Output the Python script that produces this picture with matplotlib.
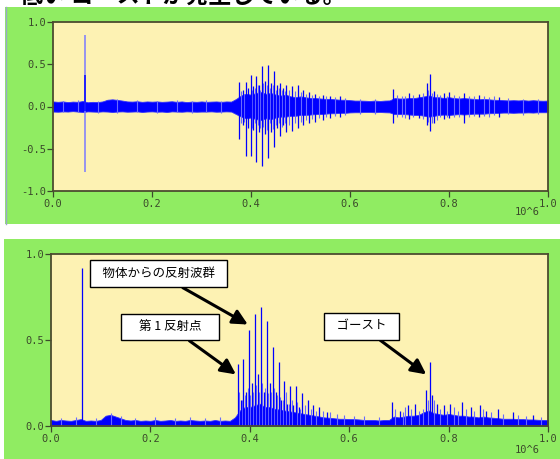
import numpy as np
import matplotlib
matplotlib.use("Agg")
import matplotlib.pyplot as plt
from matplotlib.patches import Rectangle

plt.rcParams['font.family'] = ['Noto Sans CJK JP', 'DejaVu Sans']

# ---------------- data ----------------
env_x = [i / 100 for i in range(101)]

top_upper = [0.06, 0.055, 0.06, 0.052, 0.058, 0.055, 0.065, 0.05, 0.055, 0.052, 0.06,
             0.08, 0.085, 0.078, 0.07, 0.06, 0.058, 0.062, 0.055, 0.06, 0.057,
             0.06, 0.055, 0.058, 0.062, 0.055, 0.06, 0.052, 0.058, 0.055, 0.06,
             0.055, 0.058, 0.06, 0.055, 0.06, 0.058, 0.09, 0.13, 0.15, 0.14,
             0.16, 0.17, 0.15, 0.16, 0.14, 0.13, 0.14, 0.12, 0.11, 0.12,
             0.11, 0.10, 0.10, 0.095, 0.09, 0.09, 0.085, 0.08, 0.08, 0.075,
             0.07, 0.07, 0.068, 0.065, 0.07, 0.065, 0.07, 0.072, 0.10, 0.095,
             0.095, 0.10, 0.10, 0.11, 0.12, 0.13, 0.11, 0.11, 0.10, 0.11,
             0.10, 0.095, 0.10, 0.095, 0.09, 0.085, 0.09, 0.085, 0.08, 0.078,
             0.075, 0.072, 0.075, 0.072, 0.075, 0.07, 0.075, 0.07, 0.068, 0.07]

top_lower = [-0.06, -0.062, -0.058, -0.06, -0.055, -0.06, -0.065, -0.058, -0.06, -0.062, -0.058,
             -0.06, -0.065, -0.06, -0.058, -0.062, -0.06, -0.058, -0.065, -0.06, -0.058,
             -0.062, -0.06, -0.065, -0.058, -0.06, -0.062, -0.058, -0.06, -0.062, -0.06,
             -0.06, -0.058, -0.062, -0.06, -0.058, -0.06, -0.09, -0.12, -0.14, -0.13,
             -0.15, -0.16, -0.14, -0.15, -0.13, -0.12, -0.12, -0.11, -0.11, -0.10,
             -0.10, -0.095, -0.09, -0.09, -0.085, -0.08, -0.08, -0.075, -0.075, -0.07,
             -0.068, -0.068, -0.065, -0.065, -0.068, -0.065, -0.068, -0.07, -0.09, -0.09,
             -0.09, -0.095, -0.10, -0.10, -0.11, -0.12, -0.11, -0.10, -0.095, -0.10,
             -0.095, -0.09, -0.095, -0.09, -0.085, -0.085, -0.085, -0.08, -0.078, -0.075,
             -0.072, -0.072, -0.075, -0.072, -0.072, -0.07, -0.072, -0.068, -0.068, -0.068]

bot_upper = [0.035, 0.03, 0.035, 0.032, 0.03, 0.035, 0.04, 0.03, 0.032, 0.03, 0.035,
             0.06, 0.065, 0.055, 0.045, 0.035, 0.032, 0.035, 0.03, 0.032, 0.03,
             0.035, 0.03, 0.032, 0.035, 0.03, 0.032, 0.03, 0.035, 0.032, 0.03,
             0.032, 0.03, 0.035, 0.03, 0.032, 0.03, 0.05, 0.09, 0.11, 0.11,
             0.12, 0.13, 0.11, 0.11, 0.10, 0.095, 0.09, 0.085, 0.08, 0.075,
             0.07, 0.065, 0.06, 0.055, 0.05, 0.048, 0.045, 0.042, 0.042, 0.04,
             0.04, 0.038, 0.035, 0.035, 0.035, 0.032, 0.035, 0.035, 0.055, 0.05,
             0.055, 0.06, 0.06, 0.065, 0.08, 0.09, 0.075, 0.07, 0.065, 0.07,
             0.065, 0.06, 0.06, 0.055, 0.055, 0.05, 0.055, 0.05, 0.048, 0.045,
             0.042, 0.042, 0.042, 0.04, 0.04, 0.038, 0.038, 0.036, 0.035, 0.035]

# top panel main spikes: position, positive peak, negative peak
top_spike_x = [0.064, 0.376, 0.383, 0.389, 0.394, 0.399, 0.405, 0.411, 0.416, 0.422, 0.428,
               0.435, 0.441, 0.447, 0.453, 0.459, 0.465, 0.471, 0.482, 0.494, 0.506,
               0.518, 0.530, 0.545, 0.560, 0.580, 0.687, 0.720, 0.740, 0.755, 0.762,
               0.770, 0.790, 0.800, 0.830, 0.860, 0.900]
top_spike_hi = [0.85, 0.29, 0.20, 0.29, 0.22, 0.37, 0.24, 0.36, 0.26, 0.48, 0.30,
                0.49, 0.28, 0.42, 0.25, 0.28, 0.22, 0.25, 0.24, 0.26, 0.20,
                0.17, 0.15, 0.14, 0.13, 0.12, 0.21, 0.16, 0.15, 0.28, 0.39,
                0.18, 0.16, 0.17, 0.16, 0.14, 0.11]
top_spike_lo = [-0.78, -0.39, -0.22, -0.58, -0.25, -0.58, -0.28, -0.66, -0.30, -0.70, -0.32,
                -0.61, -0.30, -0.48, -0.26, -0.35, -0.22, -0.30, -0.29, -0.25, -0.22,
                -0.20, -0.18, -0.16, -0.14, -0.12, -0.20, -0.15, -0.14, -0.22, -0.29,
                -0.20, -0.15, -0.14, -0.19, -0.13, -0.12]

# top panel small spikes (noise texture)
top_minor_x = [0.02, 0.05, 0.09, 0.13, 0.17, 0.21, 0.25, 0.28, 0.31, 0.34,
               0.379, 0.386, 0.402, 0.408, 0.414, 0.419, 0.425, 0.432, 0.438, 0.444,
               0.450, 0.456, 0.462, 0.468, 0.476, 0.488, 0.500, 0.512, 0.524, 0.537,
               0.552, 0.570, 0.590, 0.620, 0.650, 0.695, 0.705, 0.712, 0.728, 0.748,
               0.758, 0.766, 0.775, 0.782, 0.795, 0.810, 0.820, 0.840, 0.850, 0.870,
               0.880, 0.890, 0.920, 0.950, 0.980]
top_minor_hi = [0.07, 0.075, 0.07, 0.09, 0.075, 0.07, 0.075, 0.07, 0.075, 0.07,
                0.18, 0.15, 0.20, 0.22, 0.25, 0.20, 0.28, 0.26, 0.22, 0.25,
                0.20, 0.22, 0.20, 0.18, 0.20, 0.18, 0.17, 0.15, 0.14, 0.13,
                0.12, 0.11, 0.10, 0.09, 0.085, 0.14, 0.13, 0.12, 0.14, 0.16,
                0.20, 0.16, 0.15, 0.14, 0.13, 0.14, 0.13, 0.12, 0.13, 0.12,
                0.11, 0.12, 0.10, 0.09, 0.09]
top_minor_lo = [-0.07, -0.07, -0.075, -0.08, -0.07, -0.075, -0.07, -0.075, -0.07, -0.075,
                -0.20, -0.18, -0.25, -0.20, -0.22, -0.25, -0.24, -0.28, -0.20, -0.27,
                -0.22, -0.20, -0.24, -0.20, -0.22, -0.20, -0.18, -0.16, -0.15, -0.14,
                -0.12, -0.11, -0.10, -0.085, -0.09, -0.13, -0.12, -0.14, -0.13, -0.15,
                -0.18, -0.20, -0.16, -0.13, -0.12, -0.13, -0.12, -0.13, -0.11, -0.11,
                -0.12, -0.10, -0.09, -0.095, -0.085]

# bottom panel main spikes: position, peak amplitude
bot_spike_x = [0.062, 0.376, 0.382, 0.387, 0.393, 0.399, 0.404, 0.410, 0.416, 0.422, 0.428,
               0.434, 0.440, 0.446, 0.452, 0.458, 0.463, 0.469, 0.475, 0.481, 0.487,
               0.492, 0.498, 0.505, 0.518, 0.528, 0.540, 0.555, 0.687, 0.702, 0.719,
               0.732, 0.755, 0.763, 0.767, 0.776, 0.790, 0.803, 0.826, 0.845, 0.863,
               0.875, 0.900, 0.930, 0.970]
bot_spike_y = [0.92, 0.36, 0.15, 0.39, 0.20, 0.56, 0.25, 0.65, 0.30, 0.69, 0.20,
               0.61, 0.25, 0.46, 0.20, 0.37, 0.15, 0.26, 0.13, 0.23, 0.12,
               0.23, 0.11, 0.19, 0.15, 0.12, 0.11, 0.08, 0.14, 0.09, 0.12,
               0.13, 0.21, 0.37, 0.18, 0.13, 0.12, 0.13, 0.14, 0.11, 0.12,
               0.09, 0.10, 0.08, 0.065]

# bottom panel small spikes (noise texture)
bot_minor_x = [0.02, 0.05, 0.09, 0.12, 0.14, 0.17, 0.21, 0.25, 0.28, 0.31, 0.34,
               0.379, 0.385, 0.390, 0.396, 0.401, 0.407, 0.413, 0.419, 0.425, 0.431,
               0.437, 0.443, 0.449, 0.455, 0.461, 0.466, 0.472, 0.478, 0.484, 0.495,
               0.502, 0.511, 0.523, 0.534, 0.547, 0.562, 0.575, 0.590, 0.610, 0.630,
               0.660, 0.692, 0.708, 0.713, 0.725, 0.740, 0.748, 0.759, 0.771, 0.782,
               0.796, 0.810, 0.818, 0.835, 0.852, 0.870, 0.885, 0.910, 0.940, 0.955, 0.985]
bot_minor_y = [0.045, 0.05, 0.045, 0.075, 0.06, 0.045, 0.05, 0.045, 0.05, 0.045, 0.05,
               0.20, 0.15, 0.18, 0.22, 0.18, 0.20, 0.24, 0.20, 0.25, 0.22,
               0.19, 0.20, 0.22, 0.18, 0.17, 0.15, 0.20, 0.13, 0.15, 0.14,
               0.10, 0.12, 0.10, 0.09, 0.09, 0.08, 0.07, 0.065, 0.06, 0.06,
               0.05, 0.10, 0.08, 0.11, 0.10, 0.09, 0.10, 0.15, 0.15, 0.10,
               0.09, 0.11, 0.09, 0.10, 0.09, 0.10, 0.08, 0.07, 0.065, 0.06, 0.055]

x_ticks = [0.0, 0.2, 0.4, 0.6, 0.8, 1.0]
x_tick_labels = ["0.0", "0.2", "0.4", "0.6", "0.8", "1.0"]
top_y_ticks = [-1.0, -0.5, 0.0, 0.5, 1.0]
top_y_labels = ["-1.0", "-0.5", "0.0", "0.5", "1.0"]
bot_y_ticks = [0.0, 0.5, 1.0]
bot_y_labels = ["0.0", "0.5", "1.0"]

notes = ["物体からの反射波群", "第 1 反射点", "ゴースト"]
note_text_xy = [(0.216, 0.885), (0.240, 0.576), (0.625, 0.579)]
note_tip_xy = [(0.396, 0.59), (0.372, 0.30), (0.755, 0.30)]

# ---------------- figure ----------------
W, H = 560, 459
fig = plt.figure(figsize=(W / 100, H / 100), dpi=100)
fig.patch.set_facecolor('white')

GREEN = '#90ec62'
FACE = '#fdf2b3'
TICKC = '#3b4a2b'
BLUE = '#0000ff'
LIGHT = '#6a6aff'

def px_rect(x0, y0, x1, y1):
    return (x0 / W, 1 - y1 / H, (x1 - x0) / W, (y1 - y0) / H)

for (x0, y0, x1, y1) in [(5, 7, 560, 224), (4, 239, 560, 459)]:
    l, b, w, h = px_rect(x0, y0, x1, y1)
    fig.add_artist(Rectangle((l, b), w, h, transform=fig.transFigure,
                             facecolor=GREEN, edgecolor='none', zorder=-5))
fig.add_artist(plt.Line2D([5.5 / W, 5.5 / W], [1 - 224 / H, 1 - 7 / H],
                          transform=fig.transFigure, color='#9aa8c8', lw=1, zorder=-4))

fig.text(20 / W, 1 - 3 / H, "低い ゴーストが発生している。", fontsize=16.5,
         fontweight='bold', va='baseline', ha='left', color='black')

ax1 = fig.add_axes(px_rect(53, 22, 548, 191))
ax2 = fig.add_axes(px_rect(51, 254, 548, 426))

def style(ax, yt, yl, ylim):
    ax.set_facecolor(FACE)
    ax.set_xlim(0, 1.0)
    ax.set_ylim(*ylim)
    ax.set_xticks(x_ticks)
    ax.set_xticklabels(x_tick_labels)
    ax.set_yticks(yt)
    ax.set_yticklabels(yl)
    for s in ax.spines.values():
        s.set_color('#4c4c30')
        s.set_linewidth(1.3)
    ax.tick_params(axis='both', colors=TICKC, labelcolor=TICKC, labelsize=7.5,
                   direction='out', length=4, width=0.9)
    ax.tick_params(axis='x', pad=2)
    ax.tick_params(axis='y', pad=1)
    for lab in ax.get_xticklabels() + ax.get_yticklabels():
        lab.set_family('DejaVu Sans Mono')

style(ax1, top_y_ticks, top_y_labels, (-1.0, 1.0))
style(ax2, bot_y_ticks, bot_y_labels, (0.0, 1.0))

# top waveform
ax1.fill_between(env_x, top_lower, top_upper, color=BLUE, lw=0.6, edgecolor='#3030ff')
ax1.vlines(top_minor_x, top_minor_lo, top_minor_hi, color=LIGHT, lw=0.8)
ax1.vlines(top_spike_x[:1], top_spike_lo[:1], top_spike_hi[:1], color='#7a7aff', lw=1.1)
ax1.vlines([top_spike_x[0] + 0.001], [-0.05], [0.37], color=BLUE, lw=1.1)
ax1.vlines(top_spike_x[1:], top_spike_lo[1:], top_spike_hi[1:], color=BLUE, lw=0.9)

# bottom envelope
ax2.fill_between(env_x, 0, bot_upper, color=BLUE, lw=0.6, edgecolor='#3030ff')
ax2.vlines(bot_minor_x, 0, bot_minor_y, color=LIGHT, lw=0.8)
ax2.vlines(bot_spike_x, 0, bot_spike_y, color=BLUE, lw=0.9)

# 10^6 labels
for yb in (212, 450):
    fig.text(527 / W, 1 - yb / H, "10^6", fontsize=7.5, color=TICKC,
             family='DejaVu Sans Mono', ha='center', va='center')

# annotations
pads = ["  ", "    ", "  "]
for txt, pad, (tx, ty), (ax_, ay_) in zip(notes, pads, note_text_xy, note_tip_xy):
    ax2.annotate(pad + txt + pad, xy=(ax_, ay_), xytext=(tx, ty),
                 fontsize=9, ha='center', va='center', color='black',
                 bbox=dict(boxstyle='square,pad=0.55', fc='white', ec='black', lw=1.0),
                 arrowprops=dict(arrowstyle='-|>,head_length=1.0,head_width=0.5',
                                 color='black', lw=2.2, shrinkA=0, shrinkB=0),
                 zorder=10)

fig.savefig('out.png', dpi=100, facecolor='white')
